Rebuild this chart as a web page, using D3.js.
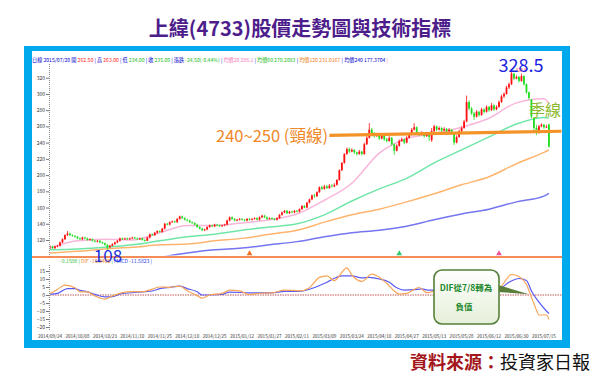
<!DOCTYPE html>
<html>
<head>
<meta charset="utf-8" />
<title>上緯(4733)股價走勢圖與技術指標</title>
<script src="https://d3js.org/d3.v7.min.js"></script>
<style>
    body { margin: 0; background: #fff; }
    svg text { font-family: "Noto Sans CJK TC", "Noto Sans", sans-serif; }
</style>
</head>
<body>
<div id="chart"></div>
<script>
// daily candles [open, high, low, close], 2014/09/24 .. 2015/07/20
const candles = [
    [111,113,109,112],[112,113,109,110],[110,113,109,112],[112,114,111,113],[113,118,112,117],
    [117,122,116,121],[121,127,120,126],[126,131,125,128],[128,129,125,126],[126,127,124,125],
    [125,126,123,124],[124,125,121,122],[122,123,120,121],[121,124,120,123],[123,124,121,122],
    [122,123,119,120],[120,122,119,121],[121,122,118,119],[119,120,117,118],[118,120,117,119],
    [119,120,116,117],[117,118,115,116],[116,117,113,114],[114,115,108,111],[111,114,110,113],
    [113,116,112,115],[115,118,114,117],[117,120,116,119],[119,123,118,122],[122,123,120,121],
    [121,123,120,122],[122,123,120,121],[121,123,120,122],[122,124,121,123],[123,124,121,122],
    [122,123,120,121],[121,123,120,122],[122,123,119,120],[120,121,118,119],[119,124,119,123],
    [123,128,122,127],[127,128,125,126],[126,130,125,129],[129,132,128,131],[131,132,129,130],
    [130,135,129,134],[134,141,133,140],[140,141,138,139],[139,143,138,142],[142,144,141,143],
    [143,144,141,142],[142,147,141,146],[146,150,145,149],[149,150,146,147],[147,148,144,145],
    [145,146,143,144],[144,145,141,142],[142,143,140,141],[141,142,138,139],[139,140,135,136],
    [136,137,133,134],[134,135,131,132],[132,134,131,133],[133,137,132,136],[136,139,135,138],
    [138,139,136,137],[137,140,136,139],[139,140,137,138],[138,139,136,137],[137,139,136,138],
    [138,140,137,139],[139,145,138,144],[144,149,143,148],[148,149,145,146],[146,147,143,144],
    [144,146,143,145],[145,147,144,146],[146,147,144,145],[145,146,143,144],[144,147,143,146],
    [146,147,144,145],[145,147,144,146],[146,148,145,147],[147,148,144,145],[145,149,144,148],
    [148,151,147,150],[150,151,147,148],[148,149,145,146],[146,148,145,147],[147,148,145,146],
    [146,147,144,145],[145,148,144,147],[147,152,146,151],[151,155,150,154],[154,157,153,156],
    [156,157,152,153],[153,156,152,155],[155,156,153,154],[154,157,153,156],[156,157,154,155],
    [155,159,154,158],[158,163,157,162],[162,163,159,160],[160,167,159,166],[166,171,165,170],
    [170,176,169,175],[175,177,172,174],[174,180,173,179],[179,186,178,185],[185,187,182,183],
    [183,188,182,186],[186,188,183,184],[184,189,183,187],[187,189,185,186],[186,190,185,188],
    [188,195,187,194],[194,207,193,206],[206,216,205,215],[215,227,214,226],[226,234,225,232],
    [232,234,227,229],[229,233,228,231],[231,232,226,228],[228,229,224,226],[226,231,225,229],
    [229,230,224,226],[226,240,225,238],[238,248,237,246],[246,264,245,256],[256,258,250,252],
    [252,253,246,248],[248,252,247,250],[250,251,243,245],[245,251,244,249],[249,250,242,244],
    [244,246,240,242],[242,248,241,246],[246,247,236,238],[238,239,225,230],[230,238,229,236],
    [236,244,235,242],[242,246,241,244],[244,245,238,240],[240,248,239,246],[246,252,245,250],
    [250,258,249,256],[256,264,255,259],[259,260,250,252],[252,253,248,250],[250,254,249,252],
    [252,253,246,248],[248,252,247,250],[250,251,242,247],[243,258,241,254],[254,262,253,260],
    [260,261,254,256],[256,260,255,258],[258,259,253,255],[255,259,254,257],[257,258,252,254],
    [254,258,253,256],[256,257,250,252],[252,253,237,240],[240,249,239,247],[247,256,246,254],
    [254,260,253,258],[258,268,257,266],[266,298,265,290],[290,292,280,282],[282,284,274,276],
    [276,278,268,272],[272,280,271,278],[278,279,272,274],[274,283,273,281],[281,282,276,278],
    [278,286,277,284],[284,285,278,280],[280,289,279,286],[286,287,279,281],[281,286,280,284],
    [284,292,283,290],[290,299,289,297],[297,302,295,300],[300,310,299,308],[308,314,306,312],
    [312,328.5,311,325],[325,326,317,319],[319,323,318,321],[321,322,314,316],[316,325,315,322],
    [322,323,310,312],[312,313,300,302],[302,303,293,295],[293,294,270,272],[270,271,252,258],
    [258,262,249,252],[252,262,251,260],[260,264,259,262],[262,263,257,259],[259,262,258,259.5],
    [262.5,263,234,235]
];

const dateLabels = ["2014/09/24","2014/10/08","2014/10/23","2014/11/10","2014/11/25","2014/12/10",
    "2014/12/25","2015/01/12","2015/01/27","2015/02/11","2015/03/09","2015/03/24","2015/04/10",
    "2015/04/27","2015/05/13","2015/05/28","2015/06/12","2015/06/30","2015/07/15"];
const dateStep = 11;

const priceTicks = [120,140,160,180,200,220,240,260,280,300,320];
const macdTicks = [15,10,5,0,-5,-10,-15,-20];

// moving averages read at the date labels (+ last day)
const maIdx  = [0,11,22,33,44,55,66,77,88,99,110,121,132,143,154,165,176,187,198,200];
const ma20   = [110,119,121,120,129,138,138,141,145,152,169,190,227,245,251,259,270,289,294,288.1];
const ma60   = [108,109,111,114,119,124,127,132,136,140,151,168,183,196,215,231,247,263,271,270.2];
const ma120  = [104,106,109,111,114,115,119,122,127,132,142,151,158,167,177,188,198,214,228,231.0];
const ma240  = [84,86,89,92,98.5,104,108,110,114,118,124,129,132,137,145,152,158,167,174,177.4];

// MACD panel, [day index, value]
const difPts = [[0,0.9],[3,3.5],[6,6.2],[10,4.5],[12,2.0],[15,1.9],[18,-0.6],[22,-2.6],[25,-0.6],
    [29,1.5],[33,2.1],[37,2.0],[41,3.7],[44,5.0],[48,4.8],[52,5.5],[55,2.6],[59,-0.4],[61,-2.0],
    [64,0],[69,1.0],[72,3.0],[76,2.6],[80,0.3],[84,1.1],[89,1.3],[94,3.1],[100,2.6],[104,4.6],
    [108,11],[111,12],[114,9],[119,17],[121,12.5],[125,8.5],[129,13],[135,7.3],[138,2.5],[140,0.5],
    [143,1],[148,4.7],[151,1.5],[156,3],[164,3.5],[172,5],[180,4.7],[185,12.8],[188,11.5],
    [191,6.6],[193,-1.4],[195,-9.4],[196,-12.5],[199,-12.5],[200,-15.3]];
const macdPts = [[0,0.5],[3,1.0],[7,4.0],[10,4.0],[12,2.9],[15,2.0],[18,0.4],[22,-1.2],[25,-1.0],
    [29,1.0],[33,1.4],[37,2.0],[41,2.5],[44,4.0],[48,4.8],[52,5.5],[55,4.0],[59,2.0],[61,0],
    [64,0],[69,0.3],[72,1.8],[80,1.3],[89,1.3],[94,2.3],[100,2.3],[104,3.6],[111,8],[117,12],
    [121,12],[125,10.7],[128,11],[132,10],[136,8],[139,4.5],[142,3],[146,3.3],[149,3.8],[152,3],
    [160,3.5],[172,4.5],[180,4],[184,8],[188,10.3],[191,9],[193,2.5],[196,-4.5],[199,-10],[200,-11.6]];

const signalIdx = [80, 140, 180];
const signalColors = ["#f36f21", "#2ecc71", "#f0509a"];
const neckline = [[112, 249], [205, 254]];

const infoSegments = [
    ["日線 2015/07/20 開 ", "#0000cc"], ["262.50", "#ff2020"], [" | 高 ", "#0000cc"], ["263.00", "#ff2020"],
    [" | 低 ", "#0000cc"], ["234.00", "#22bb22"], [" | 收 ", "#0000cc"], ["235.00", "#22bb22"],
    [" | 漲跌 ", "#0000cc"], ["-24.50(-9.44%)", "#22bb22"], [" | ", "#0000cc"],
    ["均價20 288.1", "#f07ab8"], [" | ", "#0000cc"], ["均價60 270.2083", "#22bb22"], [" | ", "#0000cc"],
    ["均價120 231.0167", "#f08020"], [" | ", "#0000cc"], ["均價240 177.3704", "#0000cc"], [" |", "#f07ab8"]
];
const macdLegend = [["-9.1598 | ", "#33bb33"], ["DIF -15.3462", "#f08020"], [" | ", "#33bb33"],
    ["MACD -11.5823 |", "#3344dd"]];

const W = 600, H = 386;
const svg = d3.select("#chart").append("svg")
    .attr("width", W).attr("height", H)
    .style("display", "block");

svg.append("rect").attr("width", W).attr("height", H).attr("fill", "#fff");

// title
svg.append("text")
    .attr("x", 300).attr("y", 36)
    .attr("text-anchor", "middle")
    .attr("font-size", 20).attr("font-weight", "bold")
    .attr("fill", "#4e1d8c")
    .text("上緯(4733)股價走勢圖與技術指標");

// blue frame
svg.append("rect").attr("x", 24).attr("y", 46).attr("width", 546).attr("height", 302).attr("fill", "#00a8ec");
svg.append("rect").attr("x", 32).attr("y", 51).attr("width", 530).attr("height", 289).attr("fill", "#fff");

// scales
const x = d3.scaleLinear().domain([0, 200]).range([50, 548.9]);
const y = d3.scaleLinear().domain([120, 320]).range([240, 77.7]);
const ym = d3.scaleLinear().domain([-20, 15]).range([327, 271]);

// info line
const info = svg.append("text")
    .attr("x", 32).attr("y", 62)
    .attr("font-size", 5.2)
    .attr("textLength", 356).attr("lengthAdjust", "spacingAndGlyphs");
infoSegments.forEach(s => info.append("tspan").attr("fill", s[1]).text(s[0]));

// price axis
const axisP = svg.append("g")
    .attr("transform", "translate(49,0)")
    .call(d3.axisLeft(y).tickValues(priceTicks).tickSize(3));
axisP.select(".domain").remove();
axisP.selectAll(".tick line").attr("stroke", "#777");
axisP.selectAll(".tick text").attr("font-size", 5).attr("fill", "#333").attr("x", -4);
svg.append("line").attr("x1", 49.5).attr("x2", 49.5).attr("y1", 64).attr("y2", 257)
    .attr("stroke", "#888").attr("stroke-dasharray", "1,1");

// clip for price panel
svg.append("clipPath").attr("id", "clipP")
    .append("rect").attr("x", 50).attr("y", 52).attr("width", 512).attr("height", 203.5);
const gP = svg.append("g").attr("clip-path", "url(#clipP)");

// moving averages
const maLine = d3.line().x(d => x(d[0])).y(d => y(d[1])).curve(d3.curveMonotoneX);
[[ma240, "#7575f2"], [ma120, "#ffb46e"], [ma60, "#6fe6a8"], [ma20, "#f9b6da"]].forEach(([vals, c]) => {
    gP.append("path")
        .datum(maIdx.map((d, i) => [d, vals[i]]))
        .attr("d", maLine)
        .attr("fill", "none").attr("stroke", c).attr("stroke-width", 1.5);
});

// candles
const up = "#ff1010", down = "#22dd22";
const cg = gP.append("g");
cg.selectAll("line").data(candles).join("line")
    .attr("x1", (d, i) => x(i)).attr("x2", (d, i) => x(i))
    .attr("y1", d => y(d[1])).attr("y2", d => y(d[2]))
    .attr("stroke", d => d[3] >= d[0] ? up : down).attr("stroke-width", 0.8);
cg.selectAll("rect").data(candles).join("rect")
    .attr("x", (d, i) => x(i) - 0.9).attr("width", 1.8)
    .attr("y", d => y(Math.max(d[0], d[3])))
    .attr("height", d => Math.max(0.8, Math.abs(y(d[0]) - y(d[3]))))
    .attr("fill", d => d[3] >= d[0] ? up : down);

// neckline
svg.append("line")
    .attr("x1", x(neckline[0][0])).attr("y1", y(neckline[0][1]))
    .attr("x2", x(neckline[1][0])).attr("y2", y(neckline[1][1]))
    .attr("stroke", "#f39327").attr("stroke-width", 3.2);

// signal markers
signalIdx.forEach((d, i) => {
    svg.append("path")
        .attr("d", d3.symbol(d3.symbolTriangle, 14)())
        .attr("transform", `translate(${x(d)},253.5)`)
        .attr("fill", signalColors[i]);
});

// price panel baseline
svg.append("line").attr("x1", 32).attr("x2", 562).attr("y1", 257).attr("y2", 257)
    .attr("stroke", "#f26522").attr("stroke-width", 1.6);

// annotations on price panel
const peakIdx = d3.maxIndex(candles, d => d[1]);
svg.append("text").attr("x", x(peakIdx) + 4).attr("y", y(candles[peakIdx][1]) + 1)
    .attr("font-size", 4.5).attr("fill", "#ff3030").text("328.5");
svg.append("text").attr("x", 521).attr("y", 72).attr("text-anchor", "middle")
    .attr("font-size", 18).attr("fill", "#1c22e0").text("328.5");
svg.append("text").attr("x", 108).attr("y", 262).attr("text-anchor", "middle")
    .attr("font-size", 17).attr("fill", "#1c30d8").text("108");
svg.append("text").attr("x", 216).attr("y", 142)
    .attr("font-size", 16.5).attr("fill", "#f0882a").text("240~250 (頸線)");
svg.append("text").attr("x", 529).attr("y", 116)
    .attr("font-size", 16).attr("fill", "#8cb82e").text("季線");

// MACD legend
const leg = svg.append("text").attr("x", 60).attr("y", 263).attr("font-size", 5)
    .attr("textLength", 92).attr("lengthAdjust", "spacingAndGlyphs");
macdLegend.forEach(s => leg.append("tspan").attr("fill", s[1]).text(s[0]));

// MACD axis
const axisM = svg.append("g")
    .attr("transform", "translate(49,0)")
    .call(d3.axisLeft(ym).tickValues(macdTicks).tickSize(3));
axisM.select(".domain").remove();
axisM.selectAll(".tick line").attr("stroke", "#777");
axisM.selectAll(".tick text").attr("font-size", 5).attr("fill", "#333").attr("x", -4);
svg.append("line").attr("x1", 49.5).attr("x2", 49.5).attr("y1", 265).attr("y2", 331)
    .attr("stroke", "#888").attr("stroke-dasharray", "1,1");

// zero line
svg.append("line").attr("x1", 50).attr("x2", 562).attr("y1", ym(0)).attr("y2", ym(0))
    .attr("stroke", "#b02828").attr("stroke-width", 0.8).attr("stroke-dasharray", "1.5,1");

const mLine = d3.line().x(d => x(d[0])).y(d => ym(d[1])).curve(d3.curveMonotoneX);
svg.append("path").datum(macdPts).attr("d", mLine)
    .attr("fill", "none").attr("stroke", "#5a5af5").attr("stroke-width", 1.2);
svg.append("path").datum(difPts).attr("d", mLine)
    .attr("fill", "none").attr("stroke", "#f7a456").attr("stroke-width", 1.2);

// date labels
svg.append("g").selectAll("text").data(dateLabels).join("text")
    .attr("x", (d, i) => x(i * dateStep)).attr("y", 337.5)
    .attr("text-anchor", "middle").attr("font-size", 4.6).attr("fill", "#333")
    .text(d => d);

// callout
const grad = svg.append("defs").append("linearGradient").attr("id", "boxg")
    .attr("x1", 0).attr("y1", 0).attr("x2", 0).attr("y2", 1);
grad.append("stop").attr("offset", "0%").attr("stop-color", "#ffffff");
grad.append("stop").attr("offset", "100%").attr("stop-color", "#e6efd9");
svg.append("path")
    .attr("d", `M498,285 L${x(192)},${ym(0.5)} L498,292 Z`)
    .attr("fill", "#5a7d3a");
svg.append("rect").attr("x", 434).attr("y", 270).attr("width", 65).attr("height", 54).attr("rx", 8)
    .attr("fill", "url(#boxg)").attr("stroke", "#55803a").attr("stroke-width", 1.6);
svg.append("text").attr("x", 466).attr("y", 291).attr("text-anchor", "middle")
    .attr("font-size", 8.5).attr("font-weight", "bold").attr("fill", "#1f8a2e").text("DIF從7/8轉為");
svg.append("text").attr("x", 464).attr("y", 310).attr("text-anchor", "middle")
    .attr("font-size", 8.5).attr("font-weight", "bold").attr("fill", "#1f8a2e").text("負值");

// source
const src = svg.append("text").attr("x", 410).attr("y", 369).attr("font-size", 18);
src.append("tspan").attr("fill", "#a3161c").attr("font-weight", "bold").text("資料來源：");
src.append("tspan").attr("fill", "#111").text("投資家日報");
</script>
</body>
</html>
